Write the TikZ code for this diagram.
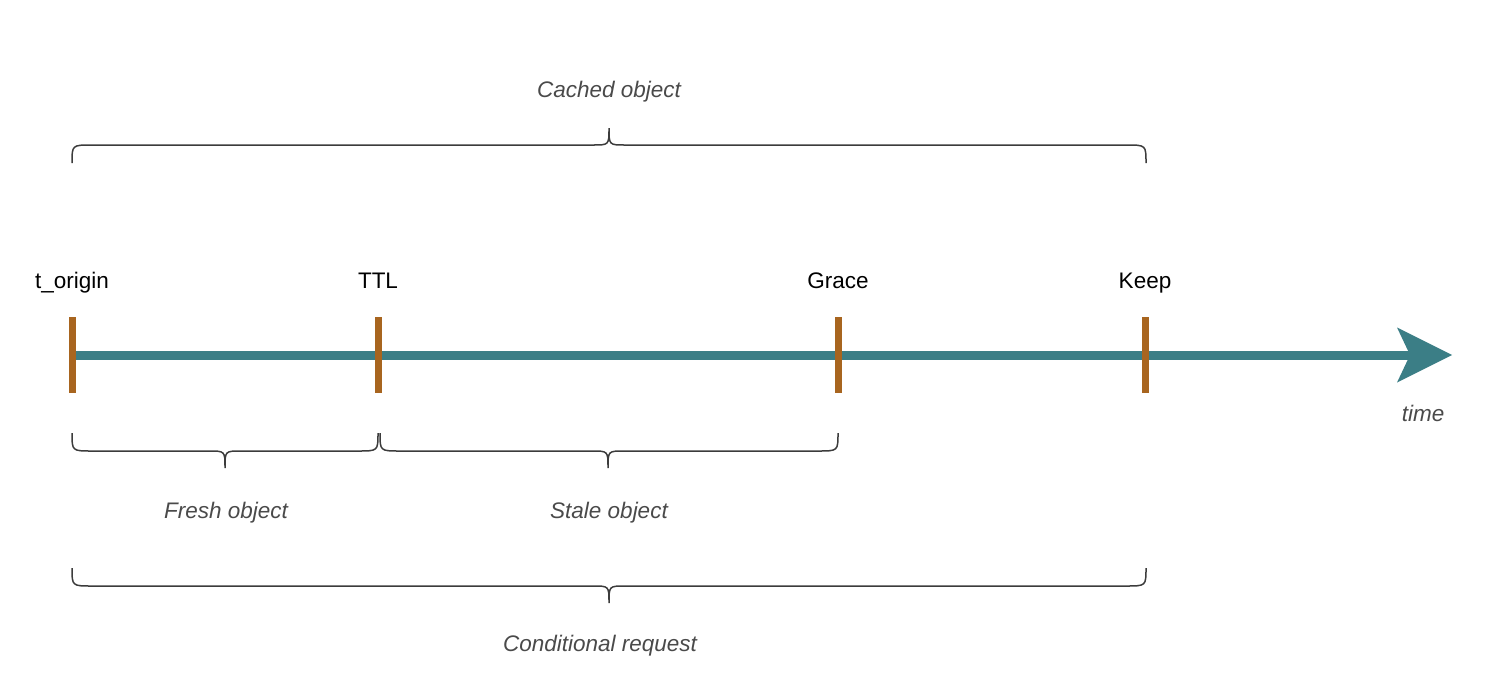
\documentclass[tikz,border=0pt]{standalone}
\usepackage{fontspec}
\setmainfont{Liberation Sans}
\usetikzlibrary{arrows.meta}
\definecolor{teal1}{HTML}{3B7E86}
\definecolor{brown1}{HTML}{A8651F}
\definecolor{brace1}{HTML}{3C3C3C}
\definecolor{lab1}{HTML}{4A4A4A}
\newcommand\curlybrace[6]{%
  \draw[bracestyle] (#1,#4) .. controls (#1,#5) .. (#1+20,#5) -- (#2-16,#5)
    .. controls (#2,#5) .. (#2,#6) .. controls (#2,#5) .. (#2+16,#5)
    -- (#3-20,#5) .. controls (#3,#5) .. (#3,#4);}
\begin{document}
\begin{tikzpicture}[x=1pt,y=-1pt,
  bracestyle/.style={draw=brace1,line width=1.5pt},
  ticklabel/.style={anchor=base,font=\fontsize{22.5}{27}\selectfont,text=black,inner sep=0pt},
  spanlabel/.style={anchor=base,font=\fontsize{22.5}{27}\selectfont\itshape,text=lab1,inner sep=0pt},
  tickmark/.style={fill=brown1,minimum width=7pt,minimum height=76pt,inner sep=0pt,draw=none},
  timeline/.style={draw=teal1,line width=9pt,-{Stealth[length=55pt,width=55pt,inset=13pt,line width=0pt]}}]
\useasboundingbox (0,0) rectangle (1498,696);
\coordinate (o) at (72,355);
\coordinate (ttl) at (378,355);
\coordinate (grace) at (838,355);
\coordinate (keep) at (1145,355);
\coordinate (tip) at (1452,355);
\draw[timeline] (o) -- (tip);
\node[tickmark] (to) at (o) {};
\node[tickmark] (tt) at (ttl) {};
\node[tickmark] (tg) at (grace) {};
\node[tickmark] (tk) at (keep) {};
\node[ticklabel] (lo) at (72,288) {t\_origin};
\node[ticklabel] (lt) at (378,288) {TTL};
\node[ticklabel] (lg) at (838,288) {Grace};
\node[ticklabel] (lk) at (1145,288) {Keep};
\node[spanlabel] (ltime) at (1423,421) {time};
\curlybrace{72}{609}{1146}{163}{145}{128}
\curlybrace{72}{225}{378}{433}{451}{468}
\curlybrace{380}{608}{838}{433}{451}{468}
\curlybrace{72}{609}{1146}{568}{586}{603}
\node[spanlabel] (lc) at (609,97) {Cached object};
\node[spanlabel] (lf) at (226,518) {Fresh object};
\node[spanlabel] (ls) at (609,518) {Stale object};
\node[spanlabel] (lr) at (600,651) {Conditional request};
\end{tikzpicture}
\end{document}
